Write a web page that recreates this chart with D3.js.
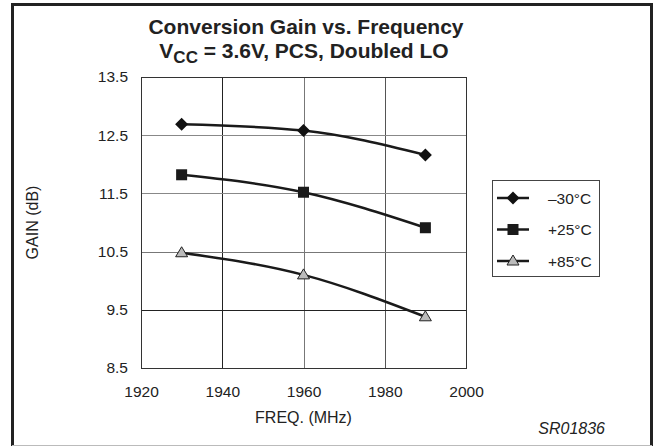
<!DOCTYPE html>
<html>
<head>
<meta charset="utf-8">
<script src="https://cdn.jsdelivr.net/npm/d3@7"></script>
<style>
  body { margin: 0; background: #fff; }
  svg text { font-family: "Liberation Sans", Arial, sans-serif; fill: #222; }
</style>
</head>
<body>
<div id="chart"></div>
<script>
// chart data
var freqs = [1930, 1960, 1990];
var seriesNames = ["\u201330\u00b0C", "+25\u00b0C", "+85\u00b0C"];
var gainM30 = [12.69, 12.58, 12.16];
var gain25 = [11.82, 11.52, 10.91];
var gain85 = [10.48, 10.10, 9.38];
var xTicks = [1920, 1940, 1960, 1980, 2000];
var yTicks = [8.5, 9.5, 10.5, 11.5, 12.5, 13.5];

var width = 654, height = 447;
var plot = { left: 141, right: 466, top: 77, bottom: 368 };

var svg = d3.select("#chart").append("svg")
    .attr("width", width)
    .attr("height", height);

// outer frame
svg.append("line").attr("x1", 11).attr("x2", 652).attr("y1", 4.5).attr("y2", 4.5)
    .attr("stroke", "#222").attr("stroke-width", 3);
svg.append("line").attr("x1", 12.5).attr("x2", 12.5).attr("y1", 3).attr("y2", 446)
    .attr("stroke", "#222").attr("stroke-width", 3);
svg.append("line").attr("x1", 651.5).attr("x2", 651.5).attr("y1", 3).attr("y2", 446)
    .attr("stroke", "#222").attr("stroke-width", 3);
svg.append("line").attr("x1", 12).attr("x2", 652).attr("y1", 445.5).attr("y2", 445.5)
    .attr("stroke", "#bbb").attr("stroke-width", 1);

var x = d3.scaleLinear().domain([1920, 2000]).range([plot.left, plot.right]);
var y = d3.scaleLinear().domain([8.5, 13.5]).range([plot.bottom, plot.top]);

// grid
var gridColors = { 1940: "#222", 1960: "#777", 1980: "#555", 9.5: "#222", 10.5: "#777", 11.5: "#888", 12.5: "#888" };
svg.append("g").selectAll("line")
    .data(xTicks.slice(1, -1))
    .enter().append("line")
    .attr("x1", function (d) { return Math.round(x(d)) + 0.5; })
    .attr("x2", function (d) { return Math.round(x(d)) + 0.5; })
    .attr("y1", plot.top).attr("y2", plot.bottom)
    .attr("stroke", function (d) { return gridColors[d]; });
svg.append("g").selectAll("line")
    .data(yTicks.slice(1, -1))
    .enter().append("line")
    .attr("y1", function (d) { return Math.round(y(d)) + 0.5; })
    .attr("y2", function (d) { return Math.round(y(d)) + 0.5; })
    .attr("x1", plot.left).attr("x2", plot.right)
    .attr("stroke", function (d) { return gridColors[d]; });

// plot border
svg.append("rect")
    .attr("x", plot.left + 0.5).attr("y", plot.top + 0.5)
    .attr("width", plot.right - plot.left).attr("height", plot.bottom - plot.top)
    .attr("fill", "none").attr("stroke", "#333");

// axes (labels only)
var xAxis = svg.append("g")
    .attr("transform", "translate(0," + plot.bottom + ")")
    .call(d3.axisBottom(x).tickValues(xTicks).tickSize(0).tickPadding(18).tickFormat(d3.format("d")));
var yAxis = svg.append("g")
    .attr("transform", "translate(" + plot.left + ",0)")
    .call(d3.axisLeft(y).tickValues(yTicks).tickSize(0).tickPadding(13).tickFormat(d3.format(".1f")));
[xAxis, yAxis].forEach(function (a) {
    a.select(".domain").remove();
    a.selectAll("text").attr("font-size", 15.5).attr("font-family", "Liberation Sans, Arial, sans-serif").attr("fill", "#222");
});

// axis titles
svg.append("text")
    .attr("x", (plot.left + plot.right) / 2).attr("y", 423)
    .attr("text-anchor", "middle").attr("font-size", 16)
    .text("FREQ. (MHz)");
svg.append("text")
    .attr("transform", "translate(38," + (plot.top + plot.bottom) / 2 + ") rotate(-90)")
    .attr("text-anchor", "middle").attr("font-size", 16)
    .text("GAIN (dB)");

// title
svg.append("text")
    .attr("x", 306).attr("y", 34)
    .attr("text-anchor", "middle").attr("font-size", 21).attr("font-weight", "bold")
    .text("Conversion Gain vs. Frequency");
var t2 = svg.append("text")
    .attr("x", 304).attr("y", 58)
    .attr("text-anchor", "middle").attr("font-size", 21).attr("font-weight", "bold");
t2.append("tspan").text("V");
t2.append("tspan").attr("dy", 5).attr("font-size", 17).text("CC");
t2.append("tspan").attr("dy", -5).text(" = 3.6V, PCS, Doubled LO");

svg.append("text")
    .attr("x", 605).attr("y", 434)
    .attr("text-anchor", "end").attr("font-size", 16).attr("font-style", "italic")
    .text("SR01836");

// series
var series = [
    { name: seriesNames[0], values: gainM30, marker: "diamond" },
    { name: seriesNames[1], values: gain25, marker: "square" },
    { name: seriesNames[2], values: gain85, marker: "triangle" }
];

var line = d3.line()
    .x(function (d, i) { return x(freqs[i]); })
    .y(function (d) { return y(d); })
    .curve(d3.curveMonotoneX);

function drawMarker(g, type, cx, cy) {
    if (type === "diamond") {
        g.append("path")
            .attr("d", "M" + cx + "," + (cy - 6.5) + "L" + (cx + 6.5) + "," + cy + "L" + cx + "," + (cy + 6.5) + "L" + (cx - 6.5) + "," + cy + "Z")
            .attr("fill", "#111");
    } else if (type === "square") {
        g.append("rect")
            .attr("x", cx - 5.5).attr("y", cy - 5.5).attr("width", 11).attr("height", 11)
            .attr("fill", "#1a1a1a");
    } else {
        g.append("path")
            .attr("d", "M" + cx + "," + (cy - 6) + "L" + (cx + 6) + "," + (cy + 4) + "L" + (cx - 6) + "," + (cy + 4) + "Z")
            .attr("fill", "#bbb").attr("stroke", "#222").attr("stroke-width", 1);
    }
}

series.forEach(function (s) {
    var g = svg.append("g");
    g.append("path")
        .datum(s.values)
        .attr("d", line)
        .attr("fill", "none")
        .attr("stroke", "#1a1a1a")
        .attr("stroke-width", 2.5);
    s.values.forEach(function (v, i) {
        drawMarker(g, s.marker, x(freqs[i]), y(v));
    });
});

// legend
var legend = svg.append("g");
legend.append("rect")
    .attr("x", 492.5).attr("y", 180.5).attr("width", 107).attr("height", 96)
    .attr("fill", "#fff").attr("stroke", "#444");
var legendY = d3.scalePoint().domain(seriesNames).range([198, 261]);
series.forEach(function (s) {
    var ly = legendY(s.name);
    legend.append("line")
        .attr("x1", 497).attr("x2", 529).attr("y1", ly).attr("y2", ly)
        .attr("stroke", "#1a1a1a").attr("stroke-width", 2.5);
    drawMarker(legend, s.marker, 513, ly);
    legend.append("text")
        .attr("x", 548).attr("y", ly + 5.5)
        .attr("font-size", 15.5)
        .text(s.name);
});
</script>
</body>
</html>
